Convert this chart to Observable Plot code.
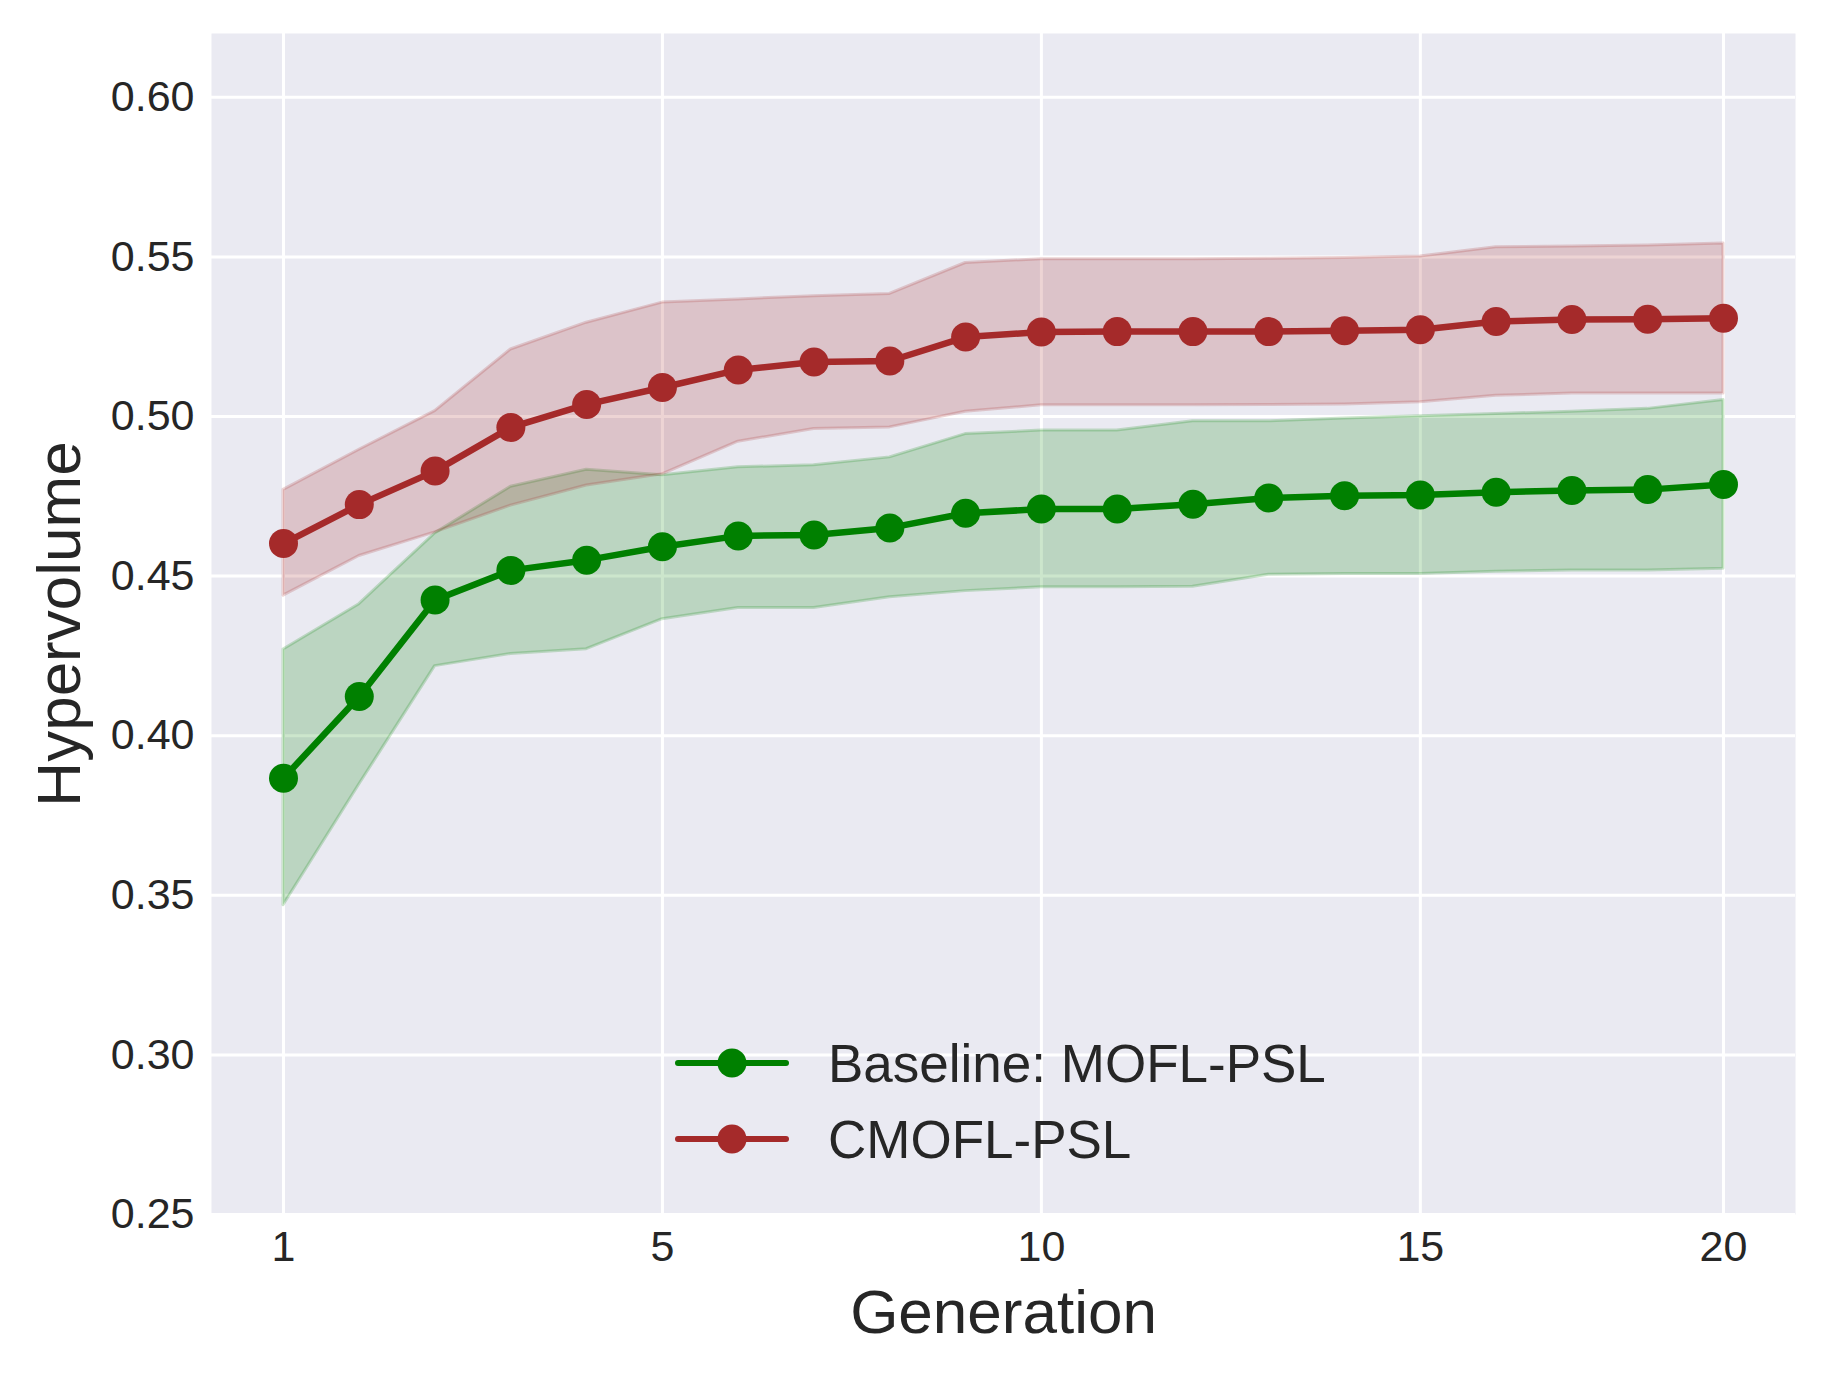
<!DOCTYPE html>
<html>
<head>
<meta charset="utf-8">
<script src="https://cdn.jsdelivr.net/npm/d3@7"></script>
<script src="https://cdn.jsdelivr.net/npm/@observablehq/plot@0.6"></script>
<style>
  body { margin: 0; background: #fff; }
  #wrap { position: relative; width: 1828px; height: 1377px; }
  #legend { position: absolute; left: 0; top: 0; pointer-events: none; }
</style>
</head>
<body>
<div id="wrap"></div>
<script>
// ---- data ----
const step = [0, 1, 2, 3, 4, 5, 6, 7, 8, 9, 10, 11, 12, 13, 14, 15, 16, 17, 18, 19];
const xTickValues = [0, 5, 10, 15, 19];
const xTickLabels = ["1", "5", "10", "15", "20"];
const yTickValues = [0.25, 0.30, 0.35, 0.40, 0.45, 0.50, 0.55, 0.60];

const seriesNames = ["Baseline: MOFL-PSL", "CMOFL-PSL"];
const seriesColors = ["#008000", "#A52A2A"];

const baselineMean = [0.3867, 0.4123, 0.4425, 0.4518, 0.4550, 0.4592, 0.4626, 0.4629, 0.4651, 0.4697, 0.4710, 0.4710, 0.4725, 0.4745, 0.4752, 0.4754, 0.4763, 0.4768, 0.4771, 0.4787];
const baselineLow  = [0.3469, 0.3847, 0.4218, 0.4256, 0.4271, 0.4365, 0.4400, 0.4400, 0.4434, 0.4453, 0.4465, 0.4465, 0.4467, 0.4504, 0.4507, 0.4507, 0.4514, 0.4518, 0.4518, 0.4523];
const baselineHigh = [0.4270, 0.4412, 0.4634, 0.4780, 0.4833, 0.4816, 0.4841, 0.4847, 0.4872, 0.4945, 0.4956, 0.4956, 0.4985, 0.4985, 0.4994, 0.5001, 0.5008, 0.5015, 0.5024, 0.5052];

const cmoflMean = [0.4602, 0.4724, 0.4829, 0.4966, 0.5038, 0.5091, 0.5146, 0.5171, 0.5174, 0.5249, 0.5265, 0.5266, 0.5266, 0.5266, 0.5269, 0.5272, 0.5298, 0.5304, 0.5305, 0.5308];
const cmoflLow  = [0.4439, 0.4563, 0.4637, 0.4721, 0.4784, 0.4819, 0.4921, 0.4961, 0.4966, 0.5015, 0.5035, 0.5035, 0.5035, 0.5036, 0.5038, 0.5045, 0.5065, 0.5072, 0.5072, 0.5072];
const cmoflHigh = [0.4770, 0.4896, 0.5017, 0.5210, 0.5294, 0.5357, 0.5367, 0.5377, 0.5384, 0.5481, 0.5493, 0.5493, 0.5493, 0.5494, 0.5497, 0.5501, 0.5530, 0.5533, 0.5536, 0.5542];

// ---- build tables ----
const baselineRows = step.map((s, i) => ({step: s, mean: baselineMean[i], low: baselineLow[i], high: baselineHigh[i]}));
const cmoflRows = step.map((s, i) => ({step: s, mean: cmoflMean[i], low: cmoflLow[i], high: cmoflHigh[i]}));

const W = 1828, H = 1377;
const FONT = "'Liberation Sans', Arial, Helvetica, sans-serif";
const TEXT = "#262626";

function bandMarks(rows, color) {
  return [
    Plot.areaY(rows, {x: "step", y1: "low", y2: "high", fill: color, fillOpacity: 0.2, stroke: color, strokeOpacity: 0.2, strokeWidth: 3})
  ];
}
function lineMarks(rows, color) {
  return [
    Plot.line(rows, {x: "step", y: "mean", stroke: color, strokeWidth: 6.5}),
    Plot.dot(rows, {x: "step", y: "mean", r: 14.5, fill: color, stroke: null})
  ];
}

const plot = Plot.plot({
  width: W,
  height: H,
  marginLeft: 211,
  marginRight: 33,
  marginTop: 33,
  marginBottom: 163,
  style: {fontFamily: FONT, fontSize: "43px", color: TEXT, background: "#fff", overflow: "visible"},
  x: {type: "linear", domain: [-0.95, 19.95]},
  y: {type: "linear", domain: [0.25, 0.62]},
  marks: [
    Plot.frame({fill: "#EAEAF2", stroke: null}),
    Plot.gridX(xTickValues, {stroke: "#fff", strokeOpacity: 1, strokeWidth: 3}),
    Plot.gridY(yTickValues, {stroke: "#fff", strokeOpacity: 1, strokeWidth: 3}),
    ...bandMarks(baselineRows, seriesColors[0]),
    ...bandMarks(cmoflRows, seriesColors[1]),
    ...lineMarks(baselineRows, seriesColors[0]),
    ...lineMarks(cmoflRows, seriesColors[1]),
    Plot.axisX(xTickValues, {tickFormat: d => xTickLabels[xTickValues.indexOf(d)], tickSize: 0, tickPadding: 16, label: null, fontSize: 43, fill: TEXT}),
    Plot.axisY(yTickValues, {tickFormat: d3.format(".2f"), tickSize: 0, tickPadding: 17, label: null, fontSize: 43, fill: TEXT}),
    Plot.text(["Generation"], {frameAnchor: "bottom", dy: 118, lineAnchor: "bottom", textAnchor: "middle", fontSize: 62, fill: TEXT}),
    Plot.text(["Hypervolume"], {frameAnchor: "left", dx: -132, rotate: -90, lineAnchor: "bottom", textAnchor: "middle", fontSize: 62, fill: TEXT})
  ]
});

const wrap = document.getElementById("wrap");
wrap.appendChild(plot);

// ---- legend (inside the plot area, lower centre, no frame) ----
const legend = d3.select(wrap).append("svg")
  .attr("id", "legend")
  .attr("width", W).attr("height", H)
  .style("font-family", FONT);
const legendRowsY = [1063, 1139];
seriesNames.forEach((name, i) => {
  const g = legend.append("g").attr("transform", `translate(0,${legendRowsY[i]})`);
  g.append("line").attr("x1", 678).attr("x2", 786).attr("y1", 0).attr("y2", 0)
    .attr("stroke", seriesColors[i]).attr("stroke-width", 6).attr("stroke-linecap", "round");
  g.append("circle").attr("cx", 732).attr("cy", 0).attr("r", 14.5).attr("fill", seriesColors[i]);
  g.append("text").attr("x", 828).attr("y", 0).attr("dy", "0.36em")
    .attr("font-size", 53).attr("fill", TEXT).text(name);
});
</script>
</body>
</html>
